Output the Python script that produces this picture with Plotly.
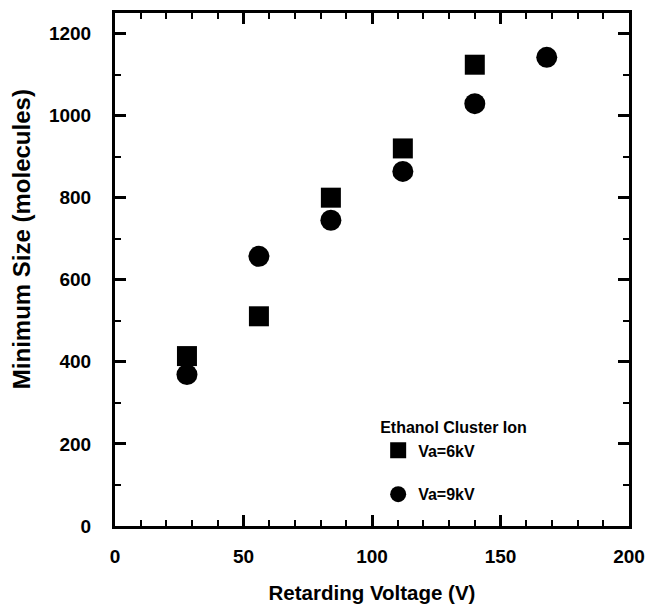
import plotly.graph_objects as go

x6 = [28, 56, 84, 112, 140]
y6 = [414, 511, 800, 920, 1124]
x9 = [28, 56, 84, 112, 140, 168]
y9 = [369, 657, 745, 864, 1029, 1142]

FONT = "Liberation Sans, Arial, sans-serif"

fig = go.Figure()
fig.add_trace(go.Scatter(x=x6, y=y6, mode="markers", name="Va=6kV", legendgroup="a",
                         marker=dict(symbol="square", size=20, color="black")))
fig.add_trace(go.Scatter(x=x9, y=y9, mode="markers", name="Va=9kV", legendgroup="b",
                         marker=dict(symbol="circle", size=21, color="black")))

axis_common = dict(showline=True, linewidth=3, linecolor="black", mirror="ticks",
                   ticks="inside", tickwidth=2.5, ticklen=11, tickcolor="black",
                   showgrid=False, zeroline=False, automargin=False,
                   tickfont=dict(family=FONT, size=19, color="black", weight="bold"))

fig.update_xaxes(range=[0, 200], dtick=50, tick0=0,
                 minor=dict(ticks="inside", dtick=10, ticklen=6, tickwidth=2, tickcolor="black"),
                 title=dict(text="Retarding Voltage (V)", standoff=21,
                            font=dict(family=FONT, size=20.5, color="black", weight="bold")),
                 ticklabelstandoff=11, **axis_common)
fig.update_yaxes(range=[0, 1250], dtick=200, tick0=0,
                 minor=dict(ticks="inside", dtick=100, ticklen=6, tickwidth=2, tickcolor="black"),
                 ticklabelstandoff=17, **axis_common)

fig.add_annotation(text="Minimum Size (molecules)", textangle=-90,
                   xref="paper", yref="paper", x=-0.183, y=0.559,
                   xanchor="center", yanchor="middle", showarrow=False,
                   font=dict(family=FONT, size=24, color="black", weight="bold"))

fig.update_layout(
    width=648, height=604,
    margin=dict(l=115, r=19, t=13, b=78),
    plot_bgcolor="white", paper_bgcolor="white",
    showlegend=True,
    legend=dict(x=0.512, y=0.221, xanchor="left", yanchor="top",
                bgcolor="rgba(0,0,0,0)", traceorder="grouped", tracegroupgap=20,
                title=dict(text="Ethanol Cluster Ion",
                           font=dict(family=FONT, size=16, color="black", weight="bold")),
                font=dict(family=FONT, size=16, color="black", weight="bold")),
)

fig.write_html("out.html", config={"displayModeBar": False},
               post_script="document.body.style.margin='0';document.body.style.overflow='hidden';")
